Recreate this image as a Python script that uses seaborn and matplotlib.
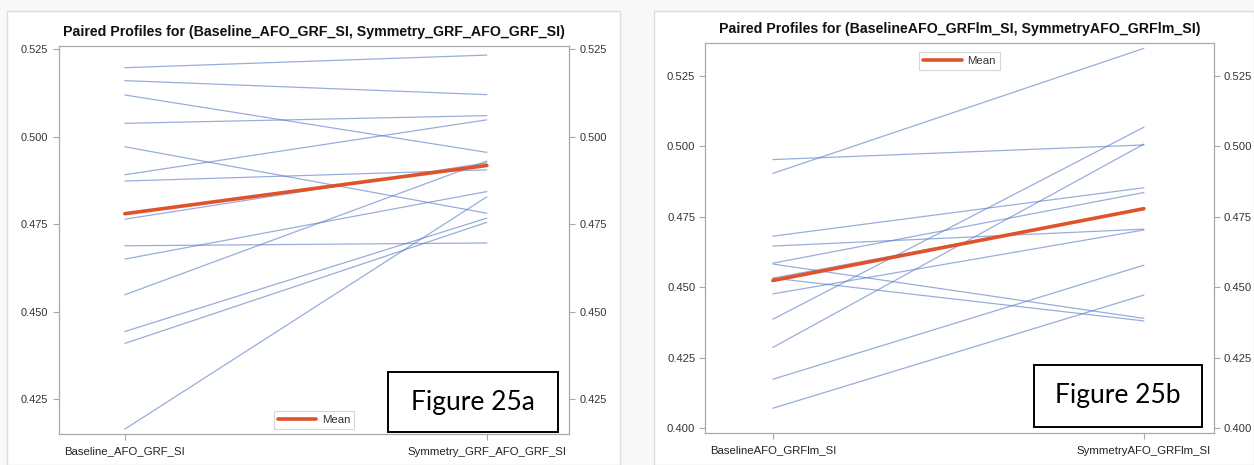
import matplotlib
matplotlib.use("Agg")
import pandas as pd
import matplotlib.pyplot as plt
import seaborn as sns
from matplotlib.patches import Rectangle

# values
labels_a = ["Baseline_AFO_GRF_SI", "Symmetry_GRF_AFO_GRF_SI"]
baseline_a = [0.5197, 0.5160, 0.5119, 0.5038, 0.4971, 0.4891, 0.4873,
              0.4764, 0.4688, 0.4650, 0.4548, 0.4443, 0.4409, 0.4164]
symmetry_a = [0.5233, 0.5120, 0.4955, 0.5060, 0.4781, 0.5048, 0.4905,
              0.4925, 0.4696, 0.4843, 0.4930, 0.4767, 0.4755, 0.4828]
ticks_a = [0.425, 0.450, 0.475, 0.500, 0.525]

labels_b = ["BaselineAFO_GRFlm_SI", "SymmetryAFO_GRFlm_SI"]
baseline_b = [0.4953, 0.4904, 0.4681, 0.4646, 0.4585, 0.4582, 0.4532,
              0.4532, 0.4476, 0.4386, 0.4286, 0.4173, 0.4070]
symmetry_b = [0.5005, 0.5348, 0.4853, 0.4706, 0.4836, 0.4389, 0.4777,
              0.4380, 0.4703, 0.5068, 0.5008, 0.4578, 0.4472]
ticks_b = [0.400, 0.425, 0.450, 0.475, 0.500, 0.525]

W, H = 1254, 465
sns.set_style("white")
plt.rcParams["font.family"] = ["Liberation Sans", "DejaVu Sans"]

GREY = "#a9a9a9"
LINE = "#5577c4"
MEAN = "#e0532a"


def paired_panel(ax, labels, before, after, ticks, ylim, xlim, legend_loc, pad, ysize, ypad):
    n = len(before)
    df = pd.DataFrame({
        "subject": list(range(n)) * 2,
        "time": [labels[0]] * n + [labels[1]] * n,
        "value": before + after,
    })
    sns.lineplot(data=df, x="time", y="value", units="subject", estimator=None,
                 color=LINE, lw=0.9, alpha=0.6, ax=ax, legend=False)
    sns.lineplot(data=df, x="time", y="value", estimator="mean", errorbar=None,
                 color=MEAN, lw=2.6, ax=ax, label="Mean")
    ax.set_xlim(*xlim)
    ax.set_ylim(*ylim)
    ax.set_yticks(ticks)
    ax.set_yticklabels([f"{t:.3f}" for t in ticks])
    ax.set_xlabel("")
    ax.set_ylabel("")
    for s in ax.spines.values():
        s.set_visible(True)
        s.set_color(GREY)
        s.set_linewidth(0.9)
    ax.tick_params(axis="y", left=True, right=True, labelleft=True, labelright=True,
                   length=4, width=0.8, color=GREY, labelsize=ysize, labelcolor="#333333", pad=ypad)
    ax.tick_params(axis="x", bottom=True, length=4, width=0.8, color=GREY,
                   labelsize=8.2, labelcolor="#222222", pad=5)
    leg = ax.legend(loc=legend_loc, fontsize=8.2, frameon=True, fancybox=False,
                    handlelength=3.4, borderaxespad=pad, borderpad=0.35,
                    handletextpad=0.5)
    leg.get_frame().set_edgecolor("#cccccc")
    leg.get_frame().set_linewidth(0.8)
    for t in leg.get_texts():
        t.set_color("#333333")
    ax.set_title(f"Paired Profiles for ({labels[0]}, {labels[1]})",
                 fontsize=10.2, fontweight="bold", color="#111111", pad=7)


fig = plt.figure(figsize=(W / 100, H / 100), dpi=100, facecolor="#f8f8f9")

# white panel frames
fig.add_artist(Rectangle((7 / W, 0), 613 / W, 1 - 11 / H, transform=fig.transFigure,
                         facecolor="white", edgecolor="#dcdcdc", lw=1.0, zorder=-2))
fig.add_artist(Rectangle((654 / W, 0), 1 - 654 / W, 1 - 11 / H, transform=fig.transFigure,
                         facecolor="white", edgecolor="#dcdcdc", lw=1.0, zorder=-2))

ax_a = fig.add_axes([59 / W, 1 - 434 / H, 510 / W, 388 / H])
ax_b = fig.add_axes([705 / W, 1 - 433 / H, 509 / W, 390 / H])

paired_panel(ax_a, labels_a, baseline_a, symmetry_a, ticks_a,
             (0.415, 0.5259), (-0.182, 1.227), "lower center", 0.4, 7.9, 4)
paired_panel(ax_b, labels_b, baseline_b, symmetry_b, ticks_b,
             (0.3982, 0.5367), (-0.183, 1.189), "upper center", 0.8, 8.1, 3)

# figure label boxes
for (x0, y0, x1, y1), txt in [((388, 372, 558, 432), "Figure 25a"),
                              ((1034, 365, 1202, 427), "Figure 25b")]:
    fig.add_artist(Rectangle((x0 / W, 1 - y1 / H), (x1 - x0) / W, (y1 - y0) / H,
                             transform=fig.transFigure, facecolor="white",
                             edgecolor="black", lw=1.4, zorder=5))
    fig.text((x0 + x1) / 2 / W, 1 - (y0 + y1) / 2 / H, txt, ha="center", va="center",
             fontsize=19, family=["Lato", "DejaVu Sans"], color="black", zorder=6)

fig.savefig("out.png", dpi=100, facecolor=fig.get_facecolor())
